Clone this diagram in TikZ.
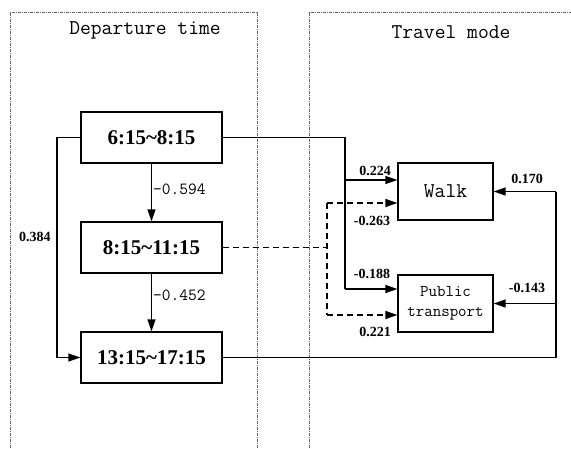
\documentclass[tikz,border=0pt]{standalone}
\usepackage{fontspec}
\setmainfont{Liberation Serif}
\usetikzlibrary{arrows.meta}
\tikzset{
  frame/.style={draw=black!60, line width=0.8pt, dash pattern=on 3pt off 1pt on 1pt off 1pt},
  timebox/.style={draw, line width=1.3pt, minimum width=141pt, minimum height=51pt, inner sep=0pt,
    font=\fontsize{21}{24}\selectfont\bfseries},
  modebox/.style={draw, line width=1.3pt, minimum width=95pt, minimum height=57pt, inner sep=0pt, align=center},
  conn/.style={line width=1.3pt, -{Triangle[length=12pt,width=8pt]}},
  plain/.style={line width=1.3pt},
  dconn/.style={conn, dash pattern=on 6pt off 4pt},
  dplain/.style={plain, dash pattern=on 6pt off 4pt},
  coef/.style={font=\fontsize{14}{16}\selectfont\bfseries, inner sep=0pt},
  mcoef/.style={font=\ttfamily\fontsize{17}{19}\selectfont, inner sep=0pt, anchor=west},
  title/.style={font=\ttfamily\fontsize{21}{24}\selectfont, inner sep=0pt}
}
\begin{document}
\begin{tikzpicture}[x=1pt, y=-1pt]
\useasboundingbox (0,0) rectangle (571,448);
% frames
\draw[frame] (10,448) -- (10,12) -- (257,12) -- (257,448);
\draw[frame] (309,448) -- (309,12) -- (571,12);
\node[title] (tdep) at (145,30) {Departure time};
\node[title] (tmode) at (451,32) {Travel mode};
% boxes
\node[timebox] (A) at (151.5,137.5) {6:15\char"007E 8:15};
\node[timebox] (B) at (151.5,247.5) {8:15\char"007E 11:15};
\node[timebox] (C) at (151.5,357.5) {13:15\char"007E 17:15};
\node[modebox, font=\ttfamily\fontsize{21}{24}\selectfont] (W) at (445.5,191.5) {Walk};
\node[modebox, font=\ttfamily\fontsize{16.5}{20}\selectfont] (P) at (445.5,303.5) {Public\\transport};
% vertical arrows
\draw[conn] (A) -- (B);
\draw[conn] (B) -- (C);
\node[mcoef] (l1) at (153,189) {-0.594};
\node[mcoef] (l2) at (153,295) {-0.452};
% left loop
\coordinate (la) at (57,137.5);
\coordinate (lc) at (57,357.5);
\draw[conn] (A.west) -- (la) -- (lc) -- (C.west);
\node[coef] (l3) at (35,237) {0.384};
% A to modes
\coordinate (ra) at (345,137.5);
\coordinate (rw) at (345,180);
\coordinate (rp) at (345,289);
\draw[plain] (A.east) -- (ra) -- (rp);
\draw[conn] (rw) -- (rw -| W.west);
\draw[conn] (rp) -- (rp -| P.west);
\node[coef] (l4) at (375,171) {0.224};
\node[coef] (l6) at (372,274) {-0.188};
% B to modes dashed
\coordinate (db) at (327,247.5);
\coordinate (dw) at (327,203);
\coordinate (dp) at (327,315);
\draw[dplain] (B.east) -- (db);
\draw[dplain] (dw) -- (dp);
\draw[dconn] (dw) -- (dw -| W.west);
\draw[dconn] (dp) -- (dp -| P.west);
\node[coef] (l5) at (372,221) {-0.263};
\node[coef] (l7) at (375,332) {0.221};
% C to modes
\coordinate (cr) at (556,357.5);
\coordinate (cw) at (556,191.5);
\coordinate (cp) at (556,303.5);
\draw[plain] (C.east) -- (cr) -- (cw);
\draw[conn] (cw) -- (W.east);
\draw[conn] (cp) -- (P.east);
\node[coef] (l8) at (527,179) {0.170};
\node[coef] (l9) at (527,288) {-0.143};
\end{tikzpicture}
\end{document}
